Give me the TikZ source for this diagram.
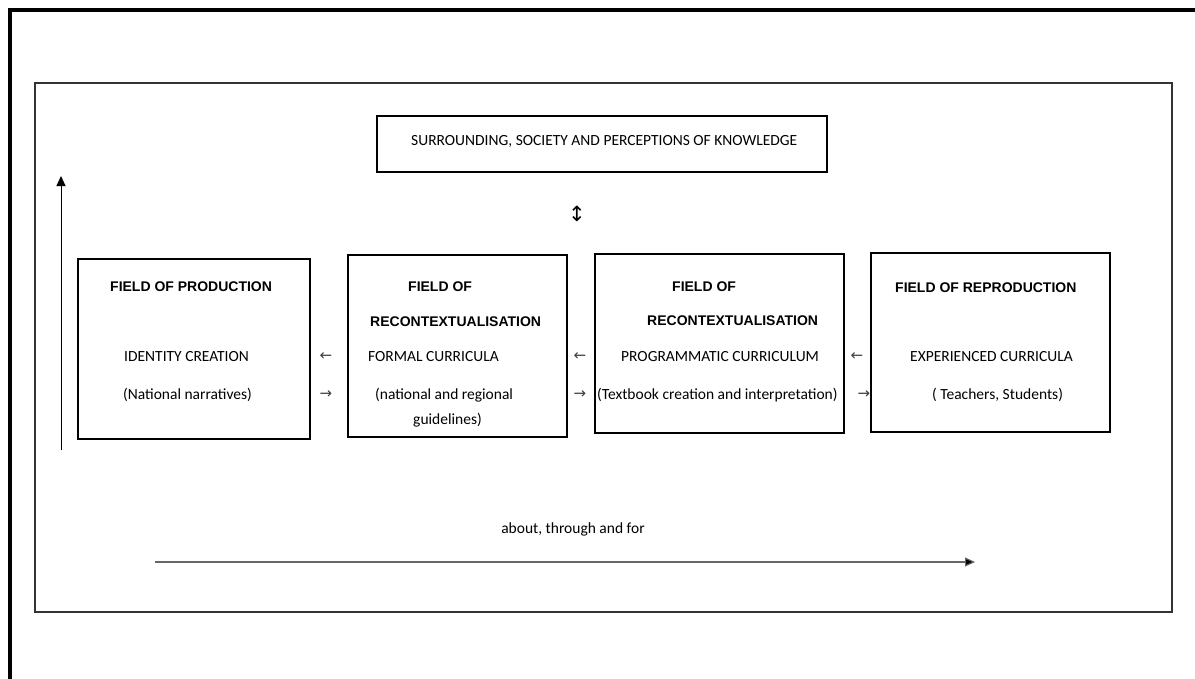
\documentclass[tikz,border=0pt]{standalone}
\usepackage{fontspec}
\setmainfont{Carlito}
\newfontfamily\headfont{Liberation Sans}
\newfontfamily\symfont{DejaVu Sans}
\usetikzlibrary{arrows.meta}
\begin{document}
\begin{tikzpicture}[x=1pt,y=-1pt,
  box/.style={draw=black,line width=1.6pt,rectangle,inner sep=0pt},
  head/.style={anchor=west,inner sep=0pt,font=\headfont\bfseries\fontsize{14}{16}\selectfont},
  body/.style={anchor=west,inner sep=0pt,font=\fontsize{15.5}{18}\selectfont},
  glyph/.style={inner sep=0pt,font=\symfont\fontsize{15}{16}\selectfont,text=black!75},
  longarrow/.style={line width=1.1pt,-{Triangle[length=10pt,width=9pt]}}]
\useasboundingbox (0,0) rectangle (1195,678);
% outer frame (cut by page)
\draw[line width=4pt] (10,700) -- (10,10) -- (1220,10);
% inner frame
\node[draw=black!80,line width=1.5pt,minimum width=1137pt,minimum height=529pt,inner sep=0pt] (frame) at (603.5,347.5) {};
% top box
\node[box,minimum width=450pt,minimum height=56pt] (top) at (602,144) {};
\node[body] (toptext) at (411,141) {SURROUNDING, SOCIETY AND PERCEPTIONS OF KNOWLEDGE};
\node[glyph,text=black,font=\symfont\fontsize{21}{22}\selectfont] (updown) at (577,214) {↕};
% boxes
\node[box,minimum width=232pt,minimum height=180pt] (b1) at (194,349) {};
\node[box,minimum width=219pt,minimum height=182pt] (b2) at (457.5,346) {};
\node[box,minimum width=249pt,minimum height=179pt] (b3) at (719.5,343.5) {};
\node[box,minimum width=239pt,minimum height=179pt] (b4) at (990.5,342.5) {};
% box 1 texts
\node[head] (h1) at (110,287) {FIELD OF PRODUCTION};
\node[body] (t1a) at (124,357) {IDENTITY CREATION};
\node[body] (t1b) at (123,395) {(National narratives)};
% box 2 texts
\node[head] (h2a) at (408,287) {FIELD OF};
\node[head] (h2b) at (370,322) {RECONTEXTUALISATION};
\node[body] (t2a) at (368,357) {FORMAL CURRICULA};
\node[body] (t2b) at (375,395) {(national and regional};
\node[body] (t2c) at (413,420) {guidelines)};
% box 3 texts
\node[head] (h3a) at (672,287) {FIELD OF};
\node[head] (h3b) at (647,321) {RECONTEXTUALISATION};
\node[body] (t3a) at (621,357) {PROGRAMMATIC CURRICULUM};
\node[body] (t3b) at (597,395) {(Textbook creation and interpretation)};
% box 4 texts
\node[head] (h4) at (895,288) {FIELD OF REPRODUCTION};
\node[body] (t4a) at (910,357) {EXPERIENCED CURRICULA};
\node[body] (t4b) at (932,395) {( Teachers, Students)};
% arrows between boxes (text arrows)
\node[glyph] (l1) at (326,357) {←};
\node[glyph] (r1) at (326,395) {→};
\node[glyph] (l2) at (580,357) {←};
\node[glyph] (r2) at (580,395) {→};
\node[glyph] (l3) at (857,357) {←};
\node[glyph] (r3) at (864,395) {→};
% vertical arrow
\coordinate (vb) at (61,450);
\coordinate (vt) at (61,176);
\draw[longarrow,line width=1pt] (vb) -- (vt);
% bottom arrow
\node[body,anchor=center] (about) at (573,529) {about, through and for};
\coordinate (hb) at (155,562);
\coordinate (he) at (975,562);
\draw[longarrow,draw=black!60,-{Triangle[length=10pt,width=9pt,fill=black]}] (hb) -- (he);
\end{tikzpicture}
\end{document}
